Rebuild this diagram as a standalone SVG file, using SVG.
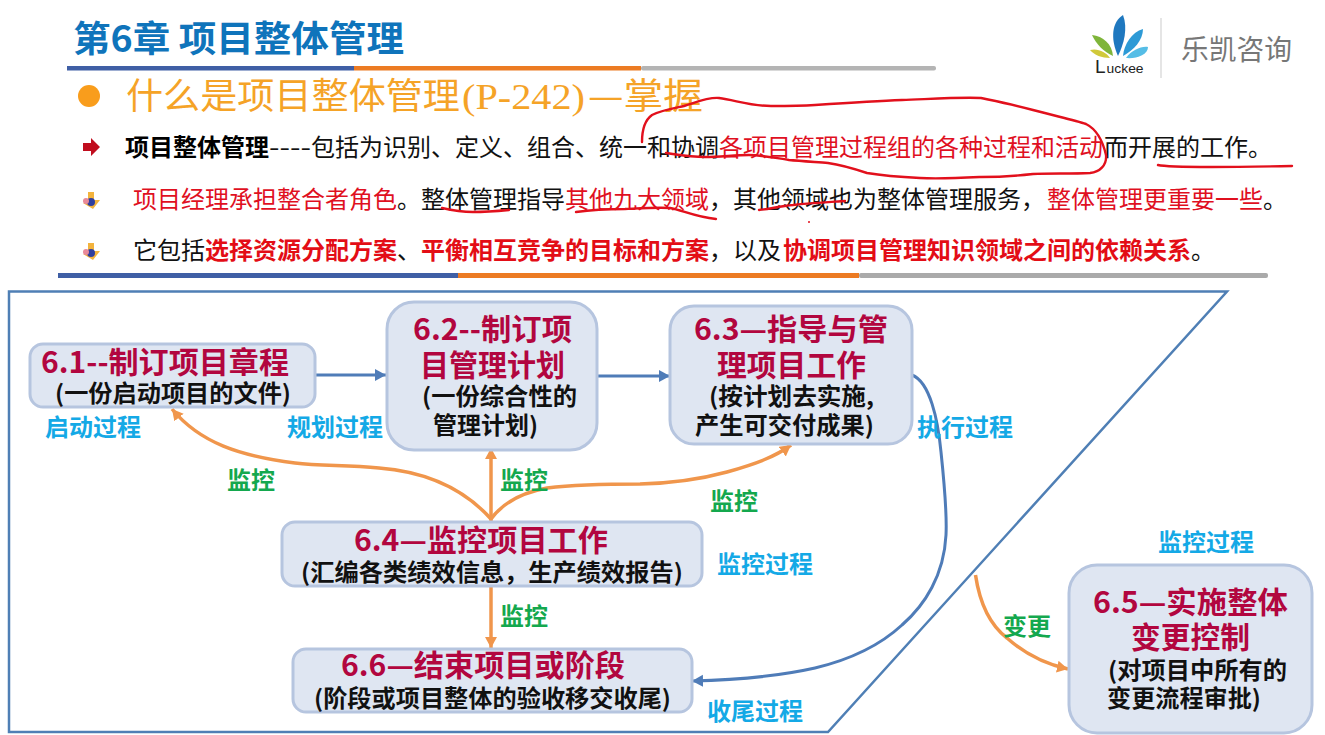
<svg xmlns="http://www.w3.org/2000/svg" width="1325" height="735" viewBox="0 0 1325 735">
<style>
text{font-family:"Noto Sans CJK SC","Liberation Sans",sans-serif}
.body{font-size:24px;fill:#111}
.r{fill:#e0101f}
.rb{fill:#e30d16;font-weight:700}
.b{font-weight:700;fill:#000}
.box{fill:#dfe6f2;stroke:#b6c5df;stroke-width:3}
.t{font-size:29.500px;font-weight:700;fill:#b2063f}
.s{font-size:23.500px;font-weight:700;fill:#111}
.phase{font-size:24px;font-weight:700;fill:#14a9e6}
.mon{font-size:24px;font-weight:700;fill:#14a84e}
.bl{fill:none;stroke:#4f7cb8;stroke-width:3}
.or{fill:none;stroke:#f0964c;stroke-width:3.500}
.ink{fill:none;stroke:#e2101c;stroke-width:2.400;stroke-linecap:round;stroke-linejoin:round}
.head{font-size:36px;fill:#f5a327}
</style>
<defs>
<marker id="ab" markerUnits="userSpaceOnUse" markerWidth="12" markerHeight="14" refX="11" refY="6" orient="auto"><path d="M0 0L11 6L0 12z" fill="#4f7cb8"/></marker>
<marker id="ao" markerUnits="userSpaceOnUse" markerWidth="12" markerHeight="14" refX="11" refY="6" orient="auto"><path d="M0 0L11 6L0 12z" fill="#f0964c"/></marker>
</defs>
<rect width="1325" height="735" fill="#fff"/>

<g id="header">
<text x="73" y="52" font-size="36" font-weight="700" fill="#0f74bb" textLength="331" lengthAdjust="spacingAndGlyphs">第6章 项目整体管理</text>
<rect x="67" y="66" width="287" height="4.500" fill="#3f5fa5"/>
<rect x="354" y="66" width="287" height="4.500" fill="#ec7b23"/>
<rect x="641" y="66" width="295" height="4.500" rx="2" fill="#b4b4b4"/>
<circle cx="89" cy="96" r="11" fill="#f99d1c"/>
<text class="head" x="126" y="109" textLength="334" lengthAdjust="spacingAndGlyphs">什么是项目整体管理</text>
<text class="head" x="462" y="109" textLength="123" lengthAdjust="spacingAndGlyphs" style="font-family:'Liberation Serif',serif">(P-242)</text>
<text class="head" x="588" y="109" textLength="115" lengthAdjust="spacingAndGlyphs">—掌握</text>
</g>

<g id="bullets">
<path d="M83 143h8v-5l9 9l-9 9v-5h-8z" fill="#c00d1e"/>
<text class="body" y="156"><tspan x="125" class="b">项目整体管理</tspan><tspan x="269" textLength="42" lengthAdjust="spacingAndGlyphs">----</tspan><tspan x="311">包括为识别、定义、组合、统一和协调</tspan><tspan x="719" class="r">各项目管理过程组的各种过程和活动</tspan><tspan x="1104">而开展的工作。</tspan></text>
<path d="M88 192h6v8h6l-7 9l-10-6h5z" fill="#f3b33d"/><circle cx="91" cy="202" r="4" fill="#2f3f9f"/><circle cx="86" cy="201" r="3" fill="#e88a9a"/>
<text class="body" y="208"><tspan x="133" class="r">项目经理承担整合者角色</tspan><tspan x="397">。整体管理指导</tspan><tspan x="565" class="r">其他九大领域</tspan><tspan x="709">，其他领域也为整体管理服务，</tspan><tspan x="1047" class="r">整体管理更重要一些</tspan><tspan x="1263">。</tspan></text>
<path d="M88 243h6v8h6l-7 9l-10-6h5z" fill="#f3b33d"/><circle cx="91" cy="253" r="4" fill="#2f3f9f"/><circle cx="86" cy="252" r="3" fill="#e88a9a"/>
<text class="body" y="259"><tspan x="133">它包括</tspan><tspan x="205" class="rb">选择资源分配方案</tspan><tspan x="397">、</tspan><tspan x="421" class="rb">平衡相互竞争的目标和方案</tspan><tspan x="709">，以及</tspan><tspan x="783" class="rb">协调项目管理知识领域之间的依赖关系</tspan><tspan x="1191">。</tspan></text>
<rect x="58" y="273" width="400" height="5" fill="#3f5fa5"/>
<rect x="458" y="273" width="401" height="5" fill="#ec7b23"/>
<rect x="859" y="273" width="409" height="5" rx="2" fill="#aaa"/>
</g>

<g id="logo">
<path d="M1118 56C1110 38 1112 22 1123 15C1128 28 1124 44 1118 56z" fill="#1f78bf"/>
<path d="M1123 56C1124 44 1132 32 1143 29C1143 40 1134 50 1123 56z" fill="#2d9ad6"/>
<path d="M1126 58C1132 50 1141 46 1148 47C1148 55 1136 59 1126 58z" fill="#55bde6"/>
<path d="M1113 56C1104 52 1096 44 1092 35C1103 36 1112 44 1113 56z" fill="#7fb53a"/>
<path d="M1110 58C1102 58 1094 55 1090 50C1098 48 1106 52 1110 58z" fill="#d0c93a"/>
<text x="1095" y="73" style="font-family:'Liberation Sans',sans-serif" fill="#222"><tspan font-size="19">L</tspan><tspan font-size="13" dx="1" textLength="37" lengthAdjust="spacingAndGlyphs">uckee</tspan></text>
<rect x="1160.500" y="18" width="1" height="60" fill="#ccc"/>
<text x="1181" y="60" font-size="28" fill="#777" textLength="111" lengthAdjust="spacingAndGlyphs">乐凯咨询</text>
</g>

<path id="frame" d="M9 291.500H1227L828 732H9z" fill="none" stroke="#4f7fb5" stroke-width="2.500"/>

<g id="connectors">
<path class="bl" marker-end="url(#ab)" d="M315 375H386"/>
<path class="bl" marker-end="url(#ab)" d="M598 376H670"/>
<path class="bl" marker-end="url(#ab)" d="M912 375C930 382 938 420 941 452C945 490 947 515 946 535C944 575 925 605 902 625C875 650 840 662 815 668C775 677 735 680 692 681"/>
<path class="or" marker-end="url(#ao)" d="M491 519C465 490 430 472 379 468C345 465 320 466 295 463C240 456 200 443 172 409"/>
<path class="or" marker-end="url(#ao)" d="M491 521V448"/>
<path class="or" marker-end="url(#ao)" d="M491 519C505 500 525 492 547 488C580 484 610 484 640 484C680 483 705 478 727 472C755 464 775 457 791 445"/>
<path class="or" marker-end="url(#ao)" d="M491 587V648"/>
<path class="or" marker-end="url(#ao)" d="M975.500 575C980 605 990 625 1007 638C1025 654 1045 664 1068 669"/>
</g>

<g id="node-6-1">
<rect class="box" x="30" y="344" width="285" height="63" rx="13"/>
<text class="t" x="41" y="373" textLength="248" lengthAdjust="spacingAndGlyphs">6.1--制订项目章程</text>
<text class="s" x="55" y="402" textLength="236" lengthAdjust="spacingAndGlyphs">(一份启动项目的文件)</text>
</g>
<g id="node-6-2">
<rect class="box" x="387" y="302" width="210" height="148" rx="27"/>
<text class="t" x="413" y="340" textLength="159" lengthAdjust="spacingAndGlyphs">6.2--制订项</text>
<text class="t" x="420" y="376" textLength="145" lengthAdjust="spacingAndGlyphs">目管理计划</text>
<text class="s" x="422" y="405" textLength="155" lengthAdjust="spacingAndGlyphs">(一份综合性的</text>
<text class="s" x="433" y="434" textLength="105" lengthAdjust="spacingAndGlyphs">管理计划)</text>
</g>
<g id="node-6-3">
<rect class="box" x="670" y="306" width="242" height="138" rx="24"/>
<text class="t" x="694" y="340" textLength="194" lengthAdjust="spacingAndGlyphs">6.3—指导与管</text>
<text class="t" x="717" y="376" textLength="149" lengthAdjust="spacingAndGlyphs">理项目工作</text>
<text class="s" x="709" y="405" textLength="165" lengthAdjust="spacingAndGlyphs">(按计划去实施,</text>
<text class="s" x="695" y="434" textLength="179" lengthAdjust="spacingAndGlyphs">产生可交付成果)</text>
</g>
<g id="node-6-4">
<rect class="box" x="282" y="522" width="420" height="64" rx="13"/>
<text class="t" x="354" y="551" textLength="254" lengthAdjust="spacingAndGlyphs">6.4—监控项目工作</text>
<text class="s" x="301" y="581" textLength="382" lengthAdjust="spacingAndGlyphs">(汇编各类绩效信息，生产绩效报告)</text>
</g>
<g id="node-6-6">
<rect class="box" x="293" y="649" width="399" height="63" rx="13"/>
<text class="t" x="341" y="676" textLength="284" lengthAdjust="spacingAndGlyphs">6.6—结束项目或阶段</text>
<text class="s" x="314" y="707" textLength="357" lengthAdjust="spacingAndGlyphs">(阶段或项目整体的验收移交收尾)</text>
</g>
<g id="node-6-5">
<rect class="box" x="1069" y="565" width="243" height="168" rx="28"/>
<text class="t" x="1093" y="613" textLength="195" lengthAdjust="spacingAndGlyphs">6.5—实施整体</text>
<text class="t" x="1131" y="648" textLength="119" lengthAdjust="spacingAndGlyphs">变更控制</text>
<text class="s" x="1108" y="679" textLength="179" lengthAdjust="spacingAndGlyphs">(对项目中所有的</text>
<text class="s" x="1107" y="707" textLength="154" lengthAdjust="spacingAndGlyphs">变更流程审批)</text>
</g>

<g id="labels">
<text class="phase" x="45" y="436">启动过程</text>
<text class="phase" x="287" y="436">规划过程</text>
<text class="phase" x="917" y="436">执行过程</text>
<text class="phase" x="717" y="573">监控过程</text>
<text class="phase" x="1158" y="551">监控过程</text>
<text class="phase" x="707" y="720">收尾过程</text>
<text class="mon" x="227" y="489">监控</text>
<text class="mon" x="500" y="489">监控</text>
<text class="mon" x="710" y="510">监控</text>
<text class="mon" x="500" y="625">监控</text>
<text class="mon" x="1003" y="635">变更</text>
</g>

<g id="annotations">
<path class="ink" d="M642 142C642 130 645 120 652 115C662 110 675 108 684 106C697 102 708 97 719 98C735 100 750 106 771 106C790 106 800 106 815 105C845 103 875 101 902 100C930 99 960 97 981 98C1000 102 1015 105 1033 110C1055 116 1075 120 1086 124C1098 130 1103 142 1106 155C1107 165 1100 172 1090 173C1070 174 1050 173 1033 174C1015 176 1000 177 981 177C960 178 940 179 920 178C900 177 885 176 867 173C855 169 842 165 828 163C815 162 800 161 789 160C775 158 762 155 749 155C735 155 720 157 705 157C692 157 680 155 666 153"/>
<path class="ink" d="M1158 165C1170 168 1240 167 1292 166"/>
<path class="ink" d="M442 208C455 211 465 212 473 212C485 212 498 211 509 210"/>
<path class="ink" d="M576 212C590 210 610 209 625 209C645 208 660 207 670 208C682 210 695 217 716 219"/>
<path class="ink" d="M759 210C770 209 780 206 793 205C810 203 830 202 845 201"/>
<circle cx="809" cy="222" r="1" fill="#e2101c"/>
</g>
</svg>
